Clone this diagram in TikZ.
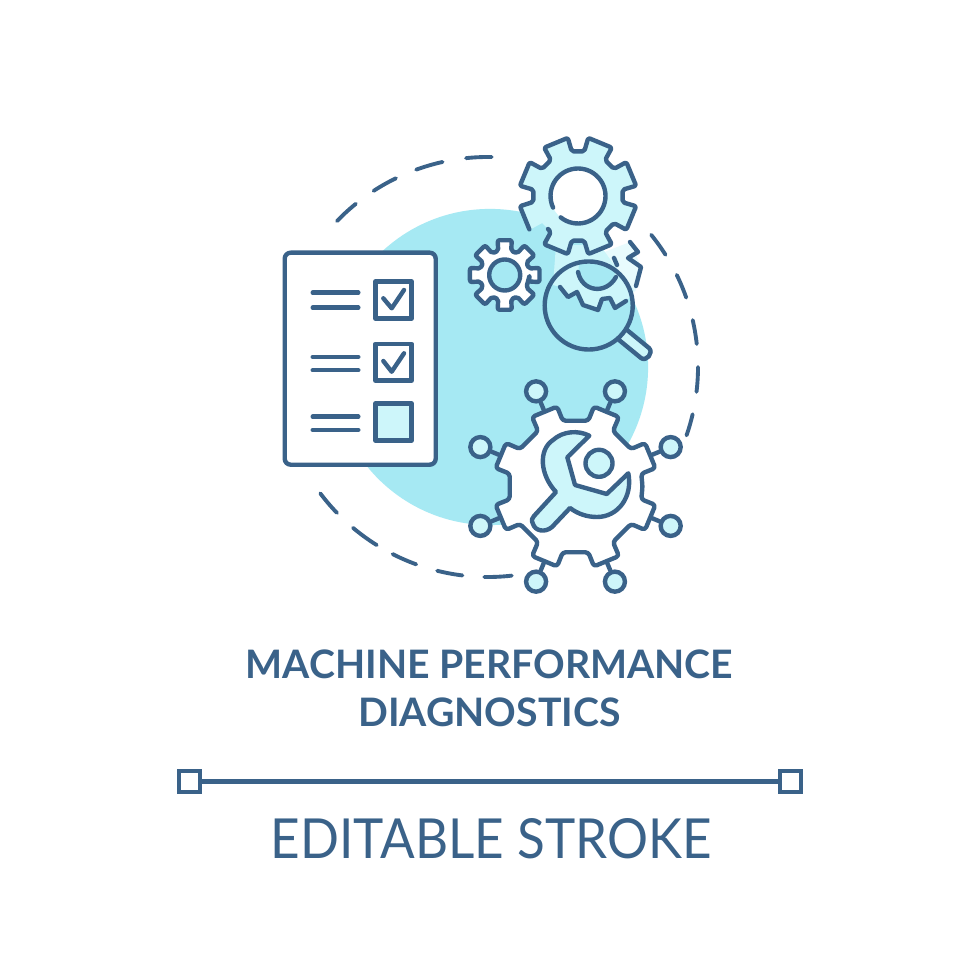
\documentclass[tikz,border=0pt]{standalone}
\usepackage{fontspec}
\setmainfont{Lato}
\usepackage{tikz}

\definecolor{inkblue}{HTML}{3A6289}
\definecolor{discblue}{HTML}{A6E9F3}
\definecolor{paleblue}{HTML}{CDF6FA}
\definecolor{faintblue}{HTML}{E8FBFD}

\tikzset{
    inkline/.style={draw=inkblue,line width=1.25pt,line cap=round,line join=round},
    dashpart/.style={draw=inkblue,line width=1.1pt,line cap=round},
    hubnode/.style={circle,draw=inkblue,line width=1.25pt,fill=paleblue,minimum size=0.2cm,inner sep=0pt},
    tickbox/.style={draw=inkblue,line width=1.3pt,line join=round},
    barend/.style={draw=inkblue,line width=1.2pt,fill=white,minimum size=0.215cm,inner sep=0pt}
}

% one run of gear teeth: cx, cy, root radius, tip radius, half base, half tip, tooth angles
\newcommand{\gearteeth}[7]{
    \foreach \t in {#7} {
        -- ({#1+#3*cos(\t-#5)},{#2-#3*sin(\t-#5)})
        -- ({#1+#4*cos(\t-#6)},{#2-#4*sin(\t-#6)})
        -- ({#1+#4*cos(\t+#6)},{#2-#4*sin(\t+#6)})
        -- ({#1+#3*cos(\t+#5)},{#2-#3*sin(\t+#5)})
    }
}

\begin{document}
\begin{tikzpicture}[x=0.01cm,y=-0.01cm]
        \useasboundingbox (0,0) rectangle (980,980);
        \fill[white] (0,0) rectangle (980,980);

        % background disc and dashed ring
        \fill[discblue] (490,367) circle[radius=1.58cm];
        \foreach \a/\b in {89/96,102.5/110,116/123,129/136,217/224,230/238,243/250,256/263,269/276.5,32.3/39,19.3/26,6.3/12.9,-6.8/0,-19/-13} {
            \draw[dashpart] plot[domain=\a:\b,samples=8] ({488+210*cos(\x)},{367-210*sin(\x)});
        }

        % gear behind the lens
        \fill[faintblue] (602,253) -- (630,242) -- (641,267) -- (636,290) -- (626,301) -- (634,290) -- cycle;
        \fill[paleblue] (556,245) -- (553,285) -- (560,287) -- (568,297) -- (577,292) -- (583,305) -- (598,310) -- (602,299) -- (610,298) -- (615,308) -- (626,301) -- (634,290) -- (612,262) -- (600,245) -- cycle;
        \begin{scope}
            \clip (588.7,305.5) circle[radius=0.44cm];
            \fill[discblue] (597,269) circle[radius=0.185cm];
        \end{scope}
        \draw[inkline] (630,242) -- (638,252) -- (628,258) -- (641,267) -- (636,286);
        \draw[inkline] (614,258) -- (617,265);

        % upper gear with its two breaks
        \fill[paleblue] (578+45,196) \gearteeth{578}{196}{45}{59}{14.5}{12.5}{22.5,67.5,...,337.5} -- cycle;
        \fill[white] (578,196) circle[radius=0.275cm];
        \draw[inkline,rounded corners=0.02cm] (548,229) \gearteeth{578}{196}{45}{59}{14.5}{12.5}{247.5,292.5,...,517.5}
            -- ({578+45*cos(547.5)},{196-45*sin(547.5)}) -- ({578+59*cos(550)},{196-59*sin(550)}) -- ({578+59*cos(574.5)},{196-59*sin(574.5)});
        \draw[inkline] plot[domain=231:565,samples=50] ({578+27.5*cos(\x)},{196-27.5*sin(\x)});

        % small gear
        \draw[inkline,fill=white,rounded corners=0.02cm] (504.7+25,275) \gearteeth{504.7}{275}{25}{35.5}{15}{11.5}{0,45,...,315} -- cycle;
        \draw[inkline,fill=discblue] (504.7,275) circle[radius=0.155cm];

        % magnifier and the teeth it shows
        \draw[inkline] (560,287) -- (568,297) -- (577,292) -- (583,305) -- (598,310) -- (602,299) -- (610,298) -- (615,308) -- (626,301);
        \draw[inkline] (578,272) .. controls (582,292) and (606,295) .. (616,277);
        \draw[inkline,fill=paleblue] (627,330) -- (649,348) .. controls (654,353) and (646,362) .. (641,358) -- (619,340);
        \draw[inkline] (588.7,305.5) circle[radius=0.44cm];

        % lower gear with hubs
        \foreach \k in {0,...,7} {
            \pgfmathsetmacro{\ang}{22.5+45*\k}
            \node[hubnode] (hub\k) at ({575.5+103*cos(\ang)},{486.5-103*sin(\ang)}) {};
            \coordinate (tip\k) at ({575.5+80*cos(\ang)},{486.5-80*sin(\ang)});
            \draw[inkline] (hub\k) -- (tip\k);
        }
        \draw[inkline,fill=white,rounded corners=0.03cm] (575.5+67,486.5) \gearteeth{575.5}{486.5}{67}{82}{11.5}{9.5}{22.5,67.5,...,337.5} -- cycle;

        % wrench
        \draw[inkline,fill=paleblue] (589.3,435.7) -- (567.3,457.3) -- (575,485) -- (606.7,494) -- (628.3,473.3)
            .. controls (633,497) and (618,517) .. (597,517) .. controls (587,517) and (578,514) .. (570,508)
            -- (552,527) .. controls (545,533) and (535,531) .. (533,524) .. controls (531,520) and (532,518) .. (534,516)
            -- (556,492) .. controls (540,475) and (538,450) .. (553,440) .. controls (563,431) and (578,430) .. (589.3,435.7) -- cycle;
        \draw[inkline,fill=paleblue] (599,463.3) circle[radius=0.135cm];

        % checklist sheet
        \draw[inkline,fill=white,rounded corners=0.06cm] (284.7,252.7) rectangle (435.7,464.7);
        \foreach \y in {281.7,344} {
            \draw[tickbox,fill=white] (375.3,\y) rectangle (411.7,\y+36.6);
        }
        \draw[tickbox,fill=paleblue] (375.3,403.7) rectangle (411.7,440.3);
        \draw[inkline] (383.3,298.3) -- (391.7,308.3) -- (404,290);
        \draw[inkline] (383.3,361) -- (391.7,371.7) -- (404,353.3);
        \foreach \y in {292.7,307.7,357,370.3,416.7,430} {
            \draw[inkline] (312.7,\y) -- (358.3,\y);
        }

        % captions
        \node[anchor=base,text=inkblue,font=\fontsize{11.15}{13}\selectfont\bfseries,inner sep=0pt] (titleone) at (489.5,678) {MACHINE PERFORMANCE};
        \node[anchor=base,text=inkblue,font=\fontsize{11.15}{13}\selectfont\bfseries,inner sep=0pt] (titletwo) at (489.5,726) {DIAGNOSTICS};
        \node[anchor=base,text=inkblue,font=\fontsize{15.7}{18}\selectfont,inner sep=0pt] (strokelabel) at (491,858) {\scalebox{0.928}[1]{EDITABLE STROKE}};

        % stroke handle bar
        \node[barend] (barleft) at (189.5,781.5) {};
        \node[barend] (barright) at (790.5,781.5) {};
        \draw[draw=inkblue,line width=1.25pt] (barleft) -- (barright);
    \end{tikzpicture}
\end{document}
